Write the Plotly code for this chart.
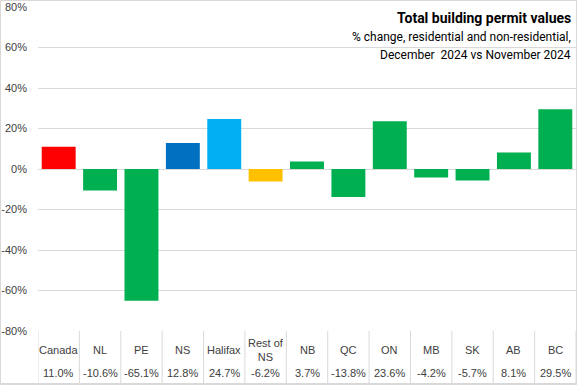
import plotly.graph_objects as go

categories = ["Canada", "NL", "PE", "NS", "Halifax", "Rest of<br>NS", "NB", "QC", "ON", "MB", "SK", "AB", "BC"]
values = [11.0, -10.6, -65.1, 12.8, 24.7, -6.2, 3.7, -13.8, 23.6, -4.2, -5.7, 8.1, 29.5]
value_labels = ["11.0%", "-10.6%", "-65.1%", "12.8%", "24.7%", "-6.2%", "3.7%", "-13.8%", "23.6%", "-4.2%", "-5.7%", "8.1%", "29.5%"]
colors = ["#FF0000", "#00B050", "#00B050", "#0070C0", "#00B0F0", "#FFC000", "#00B050",
          "#00B050", "#00B050", "#00B050", "#00B050", "#00B050", "#00B050"]
y_ticks = [-80, -60, -40, -20, 0, 20, 40, 60, 80]
y_ticktext = ["-80%", "-60%", "-40%", "-20%", "0%", "20%", "40%", "60%", "80%"]

W, H = 577, 385
L, R, T, B = 38, 1, 7, 54
pw = W - L - R
ph = H - T - B

def px_to_py(y):
    return (H - B - y) / ph

def px_to_px(x):
    return (x - L) / pw

x_idx = list(range(len(categories)))

fig = go.Figure()
fig.add_trace(go.Bar(x=x_idx, y=values, marker=dict(color=colors, line=dict(width=0)),
                     width=0.82, hoverinfo="skip"))

grid = "#D9D9D9"
font_tick = "Liberation Sans, Arial, sans-serif"
ann = []
shapes = []
for i, (c, v) in enumerate(zip(categories, value_labels)):
    ann.append(dict(x=i, y=px_to_py(350), xref="x", yref="paper", text=c, showarrow=False,
                    font=dict(family=font_tick, size=11, color="#404040"), xanchor="center", yanchor="middle"))
    ann.append(dict(x=i, y=px_to_py(373), xref="x", yref="paper", text=v, showarrow=False,
                    font=dict(family=font_tick, size=11, color="#404040"), xanchor="center", yanchor="middle"))
for i in range(len(categories) + 1):
    shapes.append(dict(type="line", xref="x", yref="paper", x0=i - 0.5, x1=i - 0.5,
                       y0=0, y1=px_to_py(383.5), line=dict(color=grid, width=1)))
shapes.append(dict(type="line", xref="paper", yref="paper", x0=px_to_px(0.5), x1=px_to_px(576.5),
                   y0=px_to_py(383.5), y1=px_to_py(383.5), line=dict(color=grid, width=1)))
# outer frame
shapes.append(dict(type="rect", xref="paper", yref="paper", x0=px_to_px(0.5), x1=px_to_px(576.5),
                   y0=px_to_py(384.5), y1=px_to_py(0.5), line=dict(color=grid, width=1)))

title_font = "Roboto, Noto Sans, sans-serif"
ann.append(dict(x=px_to_px(573), y=px_to_py(18), xref="paper", yref="paper", showarrow=False,
                text="<b>Total building permit values</b>", xanchor="right", yanchor="middle",
                font=dict(family=title_font, size=14, color="#000000")))
ann.append(dict(x=px_to_px(573), y=px_to_py(37), xref="paper", yref="paper", showarrow=False,
                text="% change, residential and non-residential,", xanchor="right", yanchor="middle",
                font=dict(family=title_font, size=12, color="#000000")))
ann.append(dict(x=px_to_px(573), y=px_to_py(55), xref="paper", yref="paper", showarrow=False,
                text="December  2024 vs November 2024", xanchor="right", yanchor="middle",
                font=dict(family=title_font, size=12, color="#000000")))

fig.update_layout(
    width=W, height=H,
    margin=dict(l=L, r=R, t=T, b=B, pad=0),
    plot_bgcolor="white", paper_bgcolor="white",
    showlegend=False,
    bargap=0.18,
    xaxis=dict(range=[-0.5, len(categories) - 0.5], showticklabels=False, showgrid=False,
               zeroline=False, showline=False, ticks=""),
    yaxis=dict(range=[-80, 80], tickvals=y_ticks, ticktext=y_ticktext, showgrid=True,
               gridcolor=grid, gridwidth=1, zeroline=True, zerolinecolor=grid, zerolinewidth=1,
               showline=False, ticks="", ticklabelstandoff=10,
               tickfont=dict(family=font_tick, size=11, color="#404040")),
    annotations=ann,
    shapes=shapes,
)

fig.write_html("out.html", config={"displayModeBar": False},
               post_script="document.body.style.margin='0';document.body.style.overflow='hidden';")
